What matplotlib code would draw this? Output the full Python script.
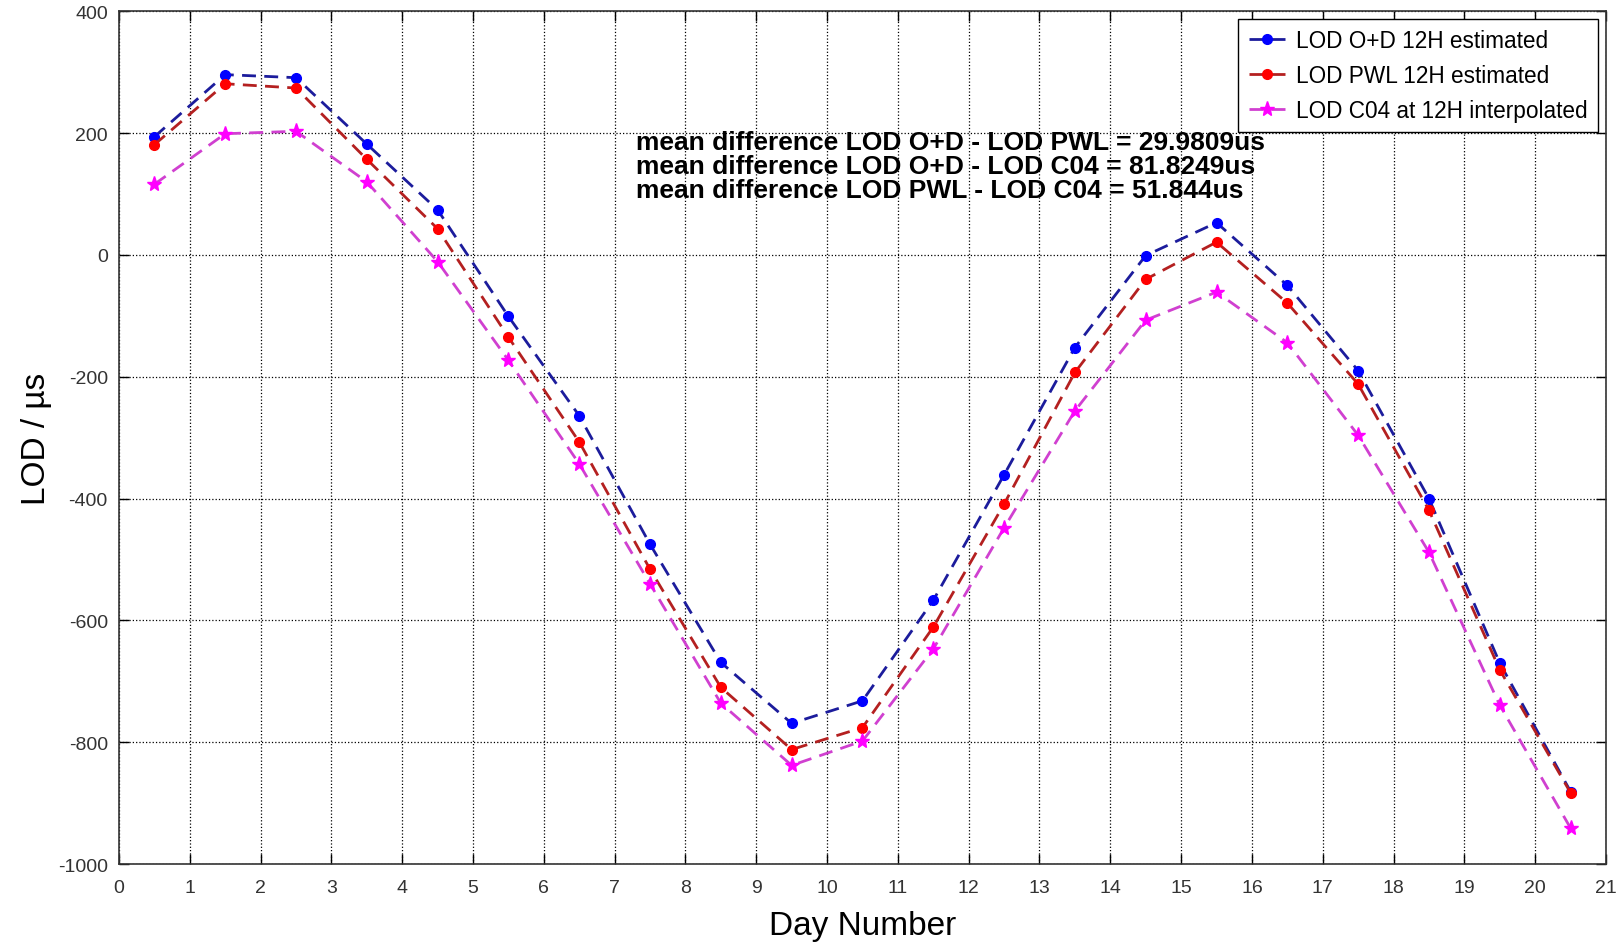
import matplotlib
matplotlib.use("Agg")
import matplotlib.pyplot as plt
from matplotlib.ticker import MultipleLocator

days = [0.5, 1.5, 2.5, 3.5, 4.5, 5.5, 6.5, 7.5, 8.5, 9.5, 10.5,
        11.5, 12.5, 13.5, 14.5, 15.5, 16.5, 17.5, 18.5, 19.5, 20.5]
lod_od = [194, 296, 291, 182, 74, -101, -264, -475, -669, -769, -732,
          -567, -361, -152, -1, 53, -50, -190, -400, -670, -881]
lod_pwl = [181, 281, 274, 157, 43, -135, -307, -516, -710, -812, -776,
           -611, -409, -193, -40, 21, -79, -212, -419, -681, -883]
lod_c04 = [116, 199, 203, 120, -11, -173, -343, -540, -736, -838, -798,
           -647, -448, -256, -107, -61, -144, -296, -488, -739, -941]

labels = ["LOD O+D 12H estimated", "LOD PWL 12H estimated",
          "LOD C04 at 12H interpolated"]
notes = ["mean difference LOD O+D - LOD PWL = 29.9809us",
         "mean difference LOD O+D - LOD C04 = 81.8249us",
         "mean difference LOD PWL - LOD C04 = 51.844us"]

plt.rcParams['font.family'] = ['Liberation Sans', 'DejaVu Sans']
plt.rcParams['axes.unicode_minus'] = False

fig = plt.figure(figsize=(16.23, 9.45), dpi=100)
ax = fig.add_axes([0.0733, 0.0846, 0.9162, 0.9024])

ax.plot(days, lod_od, linestyle='--', color='#1c1c9c', lw=2.0, dashes=(5, 3),
        marker='o', markersize=7, markerfacecolor='#0000ff', markeredgecolor='#0000ff',
        label=labels[0])
ax.plot(days, lod_pwl, linestyle='--', color='#b42020', lw=2.0, dashes=(5, 3),
        marker='o', markersize=7, markerfacecolor='#ff0000', markeredgecolor='#ff0000',
        label=labels[1])
ax.plot(days, lod_c04, linestyle='--', color='#d040d0', lw=2.0, dashes=(5, 3),
        marker='*', markersize=11, markerfacecolor='#ff00ff', markeredgecolor='#ff00ff',
        label=labels[2])

ax.set_xlim(0, 21)
ax.set_ylim(-1000, 400)
ax.xaxis.set_major_locator(MultipleLocator(1))
ax.yaxis.set_major_locator(MultipleLocator(200))
ax.grid(True, linestyle=':', color='black', linewidth=0.9)
ax.tick_params(direction='in', top=True, right=True, length=7, width=1,
               labelsize=14, labelcolor='#333333')
ax.tick_params(axis='x', pad=11)
ax.tick_params(axis='y', pad=8)
for s in ax.spines.values():
    s.set_linewidth(1.2)
    s.set_color('#333333')

ax.set_xlabel("Day Number", fontsize=24, labelpad=10)
ax.set_ylabel("LOD / µs", fontsize=24, labelpad=4)

for i, t in enumerate(notes):
    ax.text(0.3475, 0.847 - i * 0.0285, t, transform=ax.transAxes,
            fontsize=19, fontweight='bold', color='black', va='center', ha='left')

leg = ax.legend(loc='upper right', fontsize=16.3, frameon=True, fancybox=False,
                edgecolor='black', framealpha=1, borderpad=0.45, labelspacing=0.52,
                handlelength=1.6, handletextpad=0.5, borderaxespad=0.35)
leg.get_frame().set_linewidth(1.0)

fig.savefig("out.png", dpi=100)
